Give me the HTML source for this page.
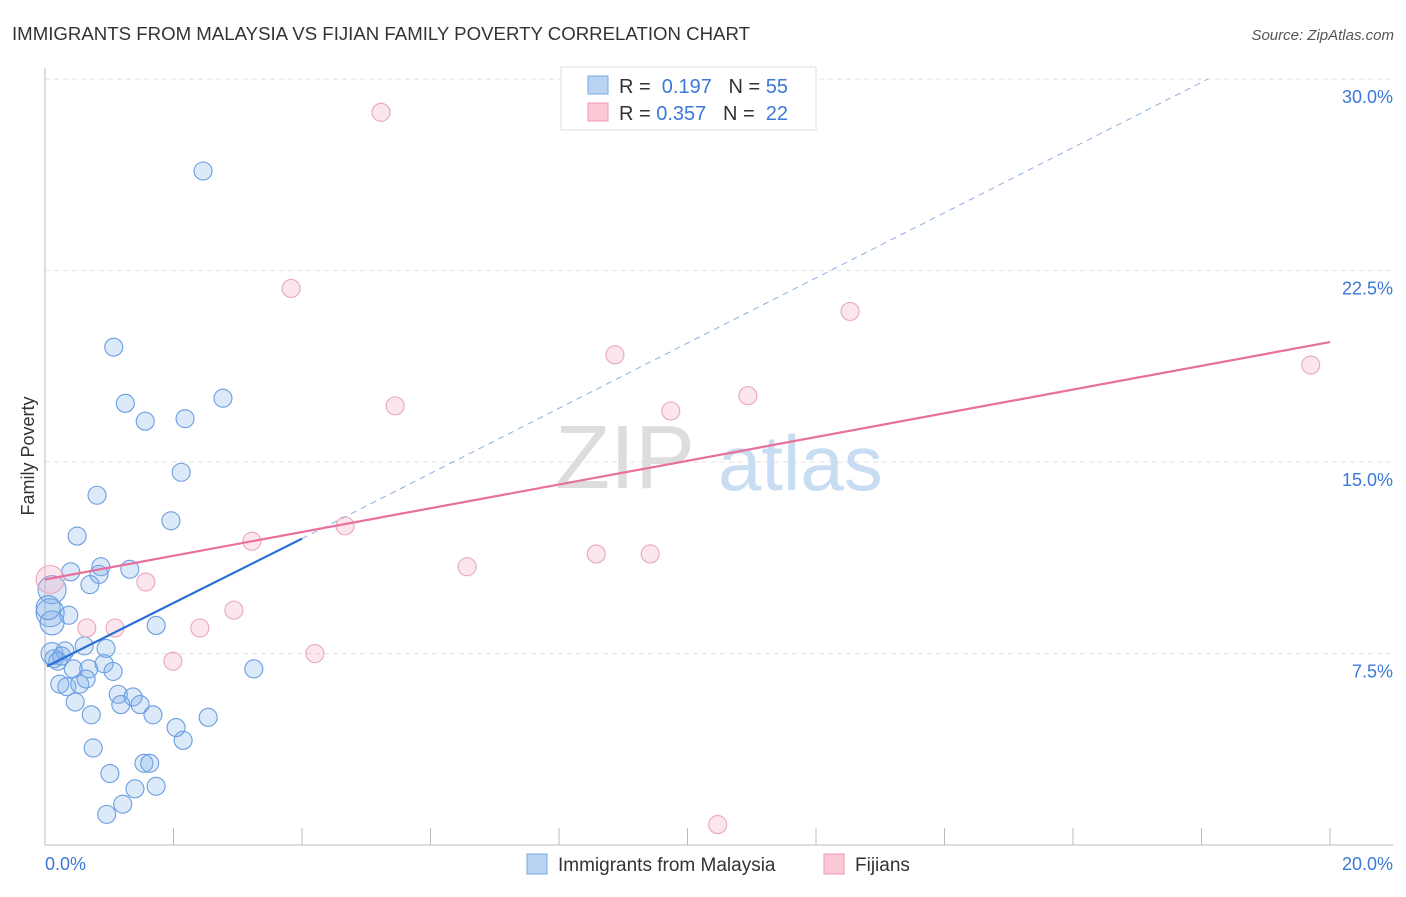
<!DOCTYPE html>
<html><head><meta charset="utf-8"><style>
body{margin:0;background:#fff;font-family:"Liberation Sans",sans-serif;}
svg text{font-family:"Liberation Sans",sans-serif;}
</style></head><body>
<svg width="1406" height="892" xmlns="http://www.w3.org/2000/svg">
<text x="12" y="40" font-size="18" fill="#333" textLength="738" lengthAdjust="spacingAndGlyphs">IMMIGRANTS FROM MALAYSIA VS FIJIAN FAMILY POVERTY CORRELATION CHART</text>
<text x="1394" y="40" font-size="15" fill="#555" font-style="italic" text-anchor="end">Source: ZipAtlas.com</text>
<g id="grid"></g>
<text x="555" y="488" font-size="90" fill="#ddd" font-family="Liberation Serif">ZIP</text>
<text x="718" y="490" font-size="78" fill="#c8dcf2">atlas</text>
<line x1="45" y1="68" x2="45" y2="845" stroke="#bbb"/>
<line x1="45" y1="845" x2="1393" y2="845" stroke="#bbb"/>
<text transform="translate(34,456) rotate(-90)" font-size="18" fill="#333" text-anchor="middle">Family Poverty</text>
<text x="45" y="870" font-size="18" fill="#3b78d8">0.0%</text>
<text x="1393" y="870" font-size="18" fill="#3b78d8" text-anchor="end">20.0%</text>
<g id="points"></g>
<g id="lines"></g>
<rect x="561" y="67" width="255" height="63" fill="#fff" stroke="#ddd"/>
<rect x="588" y="76" width="20" height="18" fill="#b9d3f5" stroke="#7aa8e0"/>
<text x="619" y="93" font-size="20" fill="#333">R = <tspan fill="#3b78d8">&#160;0.197</tspan>&#160;&#160;&#160;N = <tspan fill="#3b78d8">55</tspan></text>
<rect x="588" y="103" width="20" height="18" fill="#fbc8d6" stroke="#ec9ab3"/>
<text x="619" y="120" font-size="20" fill="#333">R = <tspan fill="#3b78d8">0.357</tspan>&#160;&#160;&#160;N = <tspan fill="#3b78d8">&#160;22</tspan></text>
<rect x="527" y="854" width="20" height="20" fill="#b9d3f5" stroke="#7aa8e0"/>
<text x="558" y="871" font-size="19" fill="#333">Immigrants from Malaysia</text>
<rect x="824" y="854" width="20" height="20" fill="#fbc8d6" stroke="#ec9ab3"/>
<text x="855" y="871" font-size="19" fill="#333">Fijians</text>
</svg>
<script>
const yTicks=[7.5,15,22.5,30];
const yTickLabels=["7.5%","15.0%","22.5%","30.0%"];
const xTicks=[2,4,6,8,10,12,14,16,18,20];
const blueX=[2.46,1.07,1.25,1.56,2.18,2.77,2.12,0.81,1.96,0.50,0.40,0.87,1.32,0.84,0.70,0.11,0.08,0.37,1.73,0.11,0.20,0.31,0.61,0.95,0.14,0.68,0.44,0.92,1.06,0.23,0.34,0.54,0.64,3.25,1.14,1.37,1.18,1.48,0.47,0.72,1.68,2.54,2.04,0.75,2.15,1.01,1.54,1.63,1.73,1.40,1.21,0.96,0.11,0.05,0.26];
const blueY=[26.4,19.5,17.3,16.6,16.7,17.5,14.6,13.7,12.7,12.1,10.7,10.9,10.8,10.6,10.2,10.0,9.1,9.0,8.6,7.5,7.2,7.6,7.8,7.7,7.3,6.9,6.9,7.1,6.8,6.3,6.2,6.3,6.5,6.9,5.9,5.8,5.5,5.5,5.6,5.1,5.1,5.0,4.6,3.8,4.1,2.8,3.2,3.2,2.3,2.2,1.6,1.2,8.7,9.3,7.4];
const blueR=[9,9,9,9,9,9,9,9,9,9,9,9,9,9,9,14,14,9,9,11,9,9,9,9,9,9,9,9,9,9,9,9,9,9,9,9,9,9,9,9,9,9,9,9,9,9,9,9,9,9,9,9,12,12,9];
const pinkX=[5.23,3.83,12.53,8.87,5.45,10.94,9.74,19.70,4.67,3.22,8.58,9.42,6.57,1.57,2.94,0.65,1.09,2.41,1.99,4.20,10.47,0.08];
const pinkY=[28.7,21.8,20.9,19.2,17.2,17.6,17.0,18.8,12.5,11.9,11.4,11.4,10.9,10.3,9.2,8.5,8.5,8.5,7.2,7.5,0.8,10.4];
const pinkR=[9,9,9,9,9,9,9,9,9,9,9,9,9,9,9,9,9,9,9,9,9,14];
const blueLine=[0,7.0,4.0,12.0];
const blueDash=[4.0,12.0,18.1,30.0];
const pinkLine=[0,10.4,20,19.7];
const X=v=>45+v*64.25, Y=v=>845-v*25.53;
const NS="http://www.w3.org/2000/svg";
function mk(t,a,p){const e=document.createElementNS(NS,t);for(const k in a)e.setAttribute(k,a[k]);p.appendChild(e);return e;}
const grid=document.getElementById('grid');
yTicks.forEach((v,i)=>{
  const l=mk('line',{x1:45,x2:1393,y1:Y(v),y2:Y(v),stroke:'#e2e2e2','stroke-dasharray':'5,4'},grid);
  
  
  const t=mk('text',{x:1393,y:Y(v)+24,'font-size':18,fill:'#3b78d8','text-anchor':'end'},grid);
  t.textContent=yTickLabels[i];
  
  
});
xTicks.forEach(v=>{
  const l=mk('line',{x1:X(v),x2:X(v),y1:828,y2:845,stroke:'#bbb'},grid);
  
  
});
const pts=document.getElementById('points');
blueX.forEach((x,i)=>{
  const c=mk('circle',{cx:X(x),cy:Y(blueY[i]),r:blueR[i],fill:'rgba(130,175,235,0.28)',stroke:'#6a9de2','stroke-width':1.1},pts);
  
  
});
pinkX.forEach((x,i)=>{
  const c=mk('circle',{cx:X(x),cy:Y(pinkY[i]),r:pinkR[i],fill:'rgba(245,165,190,0.28)',stroke:'#eaa6bc','stroke-width':1.1},pts);
  
  
});
const ln=document.getElementById('lines');
let a=mk('line',{x1:X(blueDash[0]),y1:Y(blueDash[1]),x2:X(blueDash[2]),y2:Y(blueDash[3]),stroke:'#8ab0e0','stroke-dasharray':'6,5','stroke-width':1},ln);


a=mk('line',{x1:X(pinkLine[0]),y1:Y(pinkLine[1]),x2:X(pinkLine[2]),y2:Y(pinkLine[3]),stroke:'#e8709a','stroke-width':2.2},ln);


a=mk('line',{x1:X(blueLine[0])+2,y1:Y(blueLine[1]),x2:X(blueLine[2]),y2:Y(blueLine[3]),stroke:'#2a6fd6','stroke-width':2.2},ln);


</script>
</body></html>
